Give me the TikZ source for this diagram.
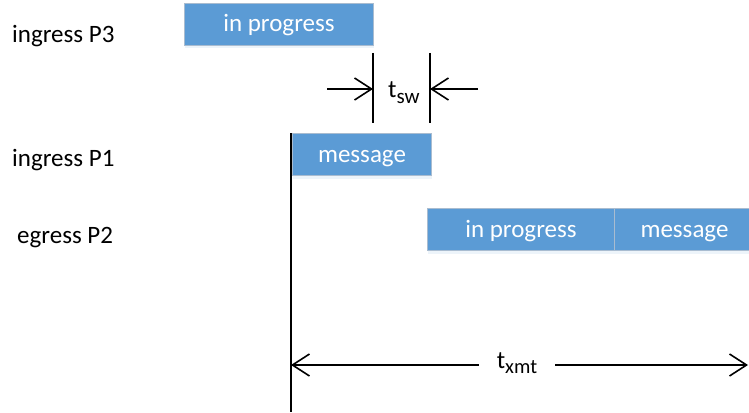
\documentclass[tikz,border=0pt]{standalone}
\usepackage{fontspec}
\setmainfont{Carlito}
\usetikzlibrary{positioning, arrows.meta, shadows}

\definecolor{barblue}{HTML}{5B9BD5}
\definecolor{barline}{HTML}{A9BCD0}

\begin{document}
\begin{tikzpicture}[x=1pt, y=-1pt, >={Straight Barb[length=17pt, width=22pt]},
  bar/.style={draw=barline, line width=1pt, fill=barblue, text=white, anchor=north west,
    minimum height=42pt, inner sep=0pt, text height=20pt, text depth=5pt,
    font=\fontsize{25}{30}\selectfont,
    drop shadow={shadow xshift=0pt, shadow yshift=-3pt, opacity=0.18, fill=barblue!60}},
  lbl/.style={anchor=base west, inner sep=0pt, font=\fontsize{25}{30}\selectfont},
  rule/.style={line width=1.6pt}]
\useasboundingbox (0,0) rectangle (749,412);

\node[lbl] (l3) at (12,42) {ingress P3};
\node[lbl] (l1) at (12,166) {ingress P1};
\node[lbl] (l2) at (17,243) {egress P2};

\node[bar, minimum width=189pt] (p3) at (184,3) {in progress};
\node[bar, minimum width=139pt] (p1) at (292,133) {message};
\node[bar, minimum width=187pt] (p2a) at (427,208) {in progress};
\node[bar, minimum width=140pt] (p2b) at (614,208) {message};

\coordinate (s1t) at (373,53);
\coordinate (s1b) at (373,123);
\coordinate (s2t) at (430,53);
\coordinate (s2b) at (430,123);
\coordinate (sl) at (327,89);
\coordinate (sr) at (478,89);
\draw[rule] (s1t) -- (s1b);
\draw[rule] (s2t) -- (s2b);
\draw[rule, ->] (sl) -- (s1t |- sl);
\draw[rule, ->] (sr) -- (s2t |- sr);
\node[lbl] (tsw) at (388,97) {t{\fontsize{21}{22}\selectfont\raisebox{-6pt}{sw}}};

\coordinate (mark) at (291,412);
\draw[rule] (mark |- p1.north) -- (mark);

\coordinate (xl) at (291,365);
\coordinate (xr) at (748,365);
\node[anchor=base, inner xsep=18pt, inner ysep=0pt, font=\fontsize{25}{30}\selectfont] (txmt) at (517,368)
  {t{\fontsize{20.5}{22}\selectfont\raisebox{-5pt}{xmt}}};
\draw[rule, ->] (txmt.west |- xl) -- (xl);
\draw[rule, ->] (txmt.east |- xr) -- (xr);

\end{tikzpicture}
\end{document}
